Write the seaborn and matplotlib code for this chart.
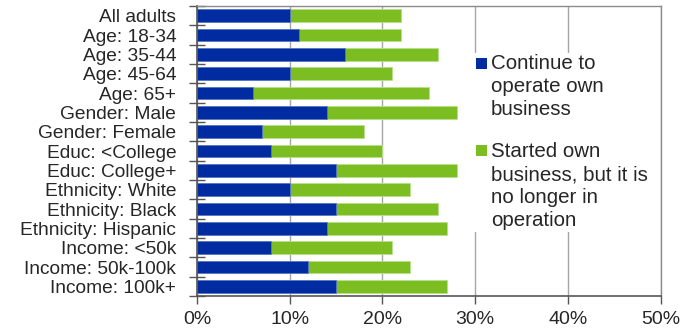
import matplotlib
matplotlib.use("Agg")
import matplotlib.pyplot as plt
import seaborn as sns
import pandas as pd
import numpy as np
from matplotlib.patches import Rectangle
from matplotlib.ticker import FixedLocator

categories = ["All adults", "Age: 18-34", "Age: 35-44", "Age: 45-64", "Age: 65+",
              "Gender: Male", "Gender: Female", "Educ: <College", "Educ: College+",
              "Ethnicity: White", "Ethnicity: Black", "Ethnicity: Hispanic",
              "Income: <50k", "Income: 50k-100k", "Income: 100k+"]
continue_op = [10, 11, 16, 10, 6, 14, 7, 8, 15, 10, 15, 14, 8, 12, 15]
no_longer = [12, 11, 10, 11, 19, 14, 11, 12, 13, 13, 11, 13, 13, 11, 12]
series_names = ["Continue to\noperate own\nbusiness",
                "Started own\nbusiness, but it is\nno longer in\noperation"]
xticks = [0, 10, 20, 30, 40, 50]

BLUE = "#002BA1"
GREEN = "#7CBE22"
TXT = "#262626"
TICK = "#555555"
W, H = 698, 332

sns.set_theme(style="white")
plt.rcParams['font.family'] = ['Liberation Sans', 'DejaVu Sans']
plt.rcParams.update({
    "xtick.bottom": True, "ytick.left": True,
    "xtick.major.size": 6, "xtick.major.width": 1, "xtick.color": TICK,
    "ytick.minor.size": 12, "ytick.minor.width": 1, "ytick.color": TICK,
})

df = pd.DataFrame({"cat": categories, "cont": continue_op, "nolong": no_longer})
df["total"] = df["cont"] + df["nolong"]

fig = plt.figure(figsize=(W/100, H/100), dpi=100)
ax = fig.add_axes([197/W, 1 - 296/H, (660.7-197)/W, (296-6)/H])

sns.barplot(data=df, y="cat", x="total", color=GREEN, orient="h", width=0.64,
            edgecolor="#B8E08A", linewidth=0.6, ax=ax, saturation=1)
sns.barplot(data=df, y="cat", x="cont", color=BLUE, orient="h", width=0.64,
            edgecolor="#5A78C8", linewidth=0.6, ax=ax, saturation=1)

ax.set_xlim(0, 50)
ax.set_ylim(len(categories) - 0.5, -0.5)
ax.set_xticks(xticks)
ax.set_xticklabels([f"{t}%" for t in xticks], fontsize=14, color=TXT)
ax.set_yticks(range(len(categories)))
ax.set_yticklabels(categories, fontsize=13.8, color=TXT)
ax.yaxis.set_minor_locator(FixedLocator(list(np.arange(-0.5, len(categories), 1))))
ax.tick_params(axis="y", which="major", left=False, length=0, pad=15)
ax.tick_params(axis="y", which="minor", left=True, length=12, direction="inout",
               color=TICK, width=1)
ax.tick_params(axis="x", which="major", bottom=True, length=6, direction="out",
               color=TICK, width=1, pad=5)
ax.set_xlabel("")
ax.set_ylabel("")

ax.xaxis.grid(True, color="#A6A6A6", linewidth=1)
ax.set_axisbelow(True)
for side in ["top", "right"]:
    ax.spines[side].set_color("#8C8C8C")
    ax.spines[side].set_linewidth(1)
for side in ["left", "bottom"]:
    ax.spines[side].set_color(TICK)
    ax.spines[side].set_linewidth(1.2)

# legend (white box, square swatches, wrapped labels)
def fx(px):
    return px / W

def fy(py):
    return 1 - py / H

fig.patches.append(Rectangle((fx(470), fy(232)), fx(656) - fx(470), fy(53) - fy(232),
                             transform=fig.transFigure, facecolor="white",
                             edgecolor="none", zorder=5))
legend_tops = [54, 142]
swatch_tops = [58, 145]
for name, col, ty, sy in zip(series_names, [BLUE, GREEN], legend_tops, swatch_tops):
    fig.patches.append(Rectangle((fx(476), fy(sy + 11)), fx(11), 11 / H,
                                 transform=fig.transFigure, facecolor=col,
                                 edgecolor="none", zorder=6))
    fig.text(fx(491), fy(ty), name, fontsize=14.8, color=TXT, va="top", ha="left",
             linespacing=1.27, zorder=7)

fig.savefig("out.png", dpi=100)
